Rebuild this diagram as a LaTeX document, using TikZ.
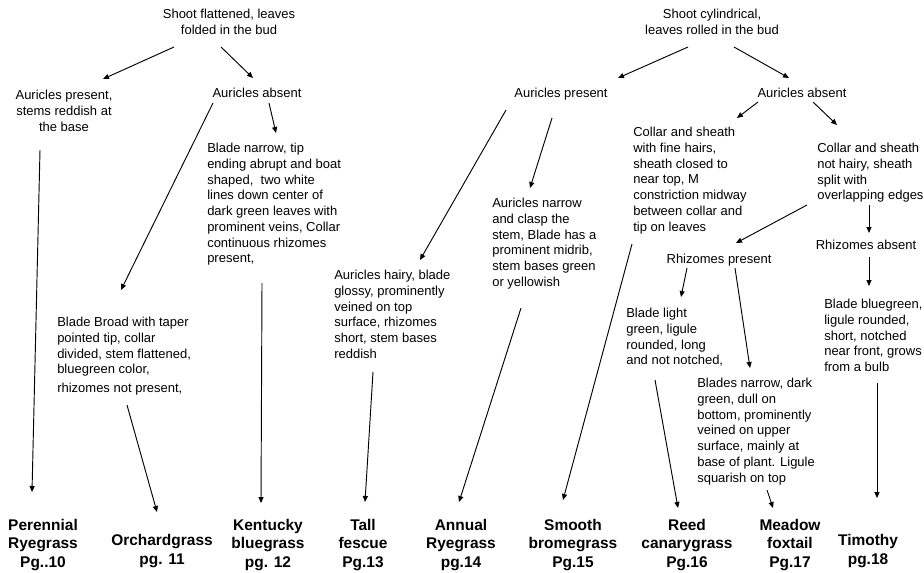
\documentclass[tikz,border=0pt]{standalone}
\usepackage{fontspec}
\setmainfont{Liberation Sans}
\usetikzlibrary{arrows.meta}

\begin{document}
\begin{tikzpicture}[x=0.75pt, y=-0.75pt,
  every node/.style={inner sep=0pt},
  key/.style={font=\fontsize{9.75}{11.8}\selectfont, align=left, anchor=north west},
  keyc/.style={font=\fontsize{9.75}{11.8}\selectfont, align=center, anchor=north},
  grass/.style={font=\bfseries\fontsize{11.6}{13.8}\selectfont, align=center},
  arr/.style={-{Triangle[length=4.5pt,width=3.8pt]}, line width=0.7pt}]

  % Frame
  \useasboundingbox (0,0) rectangle (924,572);

  % Shoot flattened side
  \node[keyc] (fRoot) at (229,9) {Shoot flattened, leaves\\folded in the bud};
  \node[keyc] (fPres) at (64,90) {Auricles present,\\stems reddish at\\the base};
  \node[keyc] (fAbs) at (257,88) {Auricles absent};
  \node[key] (fNarrow) at (207,143) {Blade narrow, tip\\ending abrupt and boat\\shaped, \ two white\\lines down center of\\dark green leaves with\\prominent veins, Collar\\continuous rhizomes\\present,};
  \node[key] (fBroad) at (57,317) {Blade Broad with taper\\pointed tip, collar\\divided, stem flattened,\\bluegreen color,\\[2pt]rhizomes not present,};

  % Shoot cylindrical side
  \node[keyc] (cRoot) at (712,9) {Shoot cylindrical,\\leaves rolled in the bud};
  \node[keyc] (cPres) at (561,88) {Auricles present};
  \node[keyc] (cAbs) at (802,88) {Auricles absent};
  \node[key] (cHairy) at (334,270) {Auricles hairy, blade\\glossy, prominently\\veined on top\\surface, rhizomes\\short, stem bases\\reddish};
  \node[key] (cNarrow) at (492,198) {Auricles narrow\\and clasp the\\stem, Blade has a\\prominent midrib,\\stem bases green\\or yellowish};
  \node[key] (cFine) at (633,127) {Collar and sheath\\with fine hairs,\\sheath closed to\\near top, M\\constriction midway\\between collar and\\tip on leaves};
  \node[key] (cSplit) at (817,143) {Collar and sheath\\not hairy, sheath\\split with\\overlapping edges};
  \node[keyc] (rPres) at (719,254) {Rhizomes present};
  \node[keyc] (rAbs) at (866,240) {Rhizomes absent};
  \node[key] (bLight) at (626,308) {Blade light\\green, ligule\\rounded, long\\and not notched,};
  \node[key] (bDark) at (697,378) {Blades narrow, dark\\green, dull on\\bottom, prominently\\veined on upper\\surface, mainly at\\base of plant. Ligule\\squarish on top};
  \node[key] (bBlue) at (824,299) {Blade bluegreen,\\ligule rounded,\\short, notched\\near front, grows\\from a bulb};

  % Grasses
  \node[grass] (gPer) at (43,545) {Perennial\\Ryegrass\\Pg..10};
  \node[grass] (gOrch) at (162,551) {Orchardgrass\\pg. 11};
  \node[grass] (gKen) at (268,545) {Kentucky\\bluegrass\\pg. 12};
  \node[grass] (gTall) at (363,545) {Tall\\fescue\\Pg.13};
  \node[grass] (gAnn) at (461,545) {Annual\\Ryegrass\\pg.14};
  \node[grass] (gSmo) at (573,545) {Smooth\\bromegrass\\Pg.15};
  \node[grass] (gReed) at (687,545) {Reed\\canarygrass\\Pg.16};
  \node[grass] (gMea) at (790,545) {Meadow\\foxtail\\Pg.17};
  \node[grass] (gTim) at (868,551) {Timothy\\pg.18};

  % Arrows, flattened side
  \draw[arr] ([shift={(-55,38)}]fRoot.north) -- ([shift={(39,-11)}]fPres.north);
  \draw[arr] ([shift={(-8,38)}]fRoot.north) -- ([shift={(-4,-10)}]fAbs.north);
  \draw[arr] ([shift={(12,15)}]fAbs.north) -- ([shift={(69,-10)}]fNarrow.north west);
  \draw[arr] ([shift={(-44,15)}]fAbs.north) -- ([shift={(64,-27)}]fBroad.north west);
  \draw[arr] ([shift={(-24,60)}]fPres.north) -- ([shift={(-11,-53)}]gPer.center);
  \draw[arr] ([shift={(70,88)}]fBroad.north west) -- ([shift={(-5,-39)}]gOrch.center);
  \draw[arr] ([shift={(55,140)}]fNarrow.north west) -- ([shift={(-7,-42)}]gKen.center);

  % Arrows, cylindrical side
  \draw[arr] ([shift={(-24,38)}]cRoot.north) -- ([shift={(57,-10)}]cPres.north);
  \draw[arr] ([shift={(22,38)}]cRoot.north) -- ([shift={(-13,-10)}]cAbs.north);
  \draw[arr] ([shift={(-55,22)}]cPres.north) -- ([shift={(86,-10)}]cHairy.north west);
  \draw[arr] ([shift={(-9,30)}]cPres.north) -- ([shift={(38,-10)}]cNarrow.north west);
  \draw[arr] ([shift={(39,102)}]cHairy.north west) -- ([shift={(2,-43)}]gTall.center);
  \draw[arr] ([shift={(29,110)}]cNarrow.north west) -- ([shift={(-2,-43)}]gAnn.center);
  \draw[arr] ([shift={(-44,14)}]cAbs.north) -- ([shift={(104,-9)}]cFine.north west);
  \draw[arr] ([shift={(11,14)}]cAbs.north) -- ([shift={(20,-18)}]cSplit.north west);
  \draw[arr] ([shift={(-1,117)}]cFine.north west) -- ([shift={(-10,-45)}]gSmo.center);
  \draw[arr] ([shift={(-10,62)}]cSplit.north west) -- ([shift={(17,-11)}]rPres.north);
  \draw[arr] ([shift={(52,62)}]cSplit.north west) -- ([shift={(3,-7)}]rAbs.north);
  \draw[arr] ([shift={(3,17)}]rAbs.north) -- ([shift={(45,-13)}]bBlue.north west);
  \draw[arr] ([shift={(53,84)}]bBlue.north west) -- ([shift={(9,-53)}]gTim.center);
  \draw[arr] ([shift={(-32,14)}]rPres.north) -- ([shift={(55,-11)}]bLight.north west);
  \draw[arr] ([shift={(16,14)}]rPres.north) -- ([shift={(53,-10)}]bDark.north west);
  \draw[arr] ([shift={(29,72)}]bLight.north west) -- ([shift={(-9,-37)}]gReed.center);
  \draw[arr] ([shift={(70,112)}]bDark.north west) -- ([shift={(-17,-37)}]gMea.center);
\end{tikzpicture}
\end{document}
